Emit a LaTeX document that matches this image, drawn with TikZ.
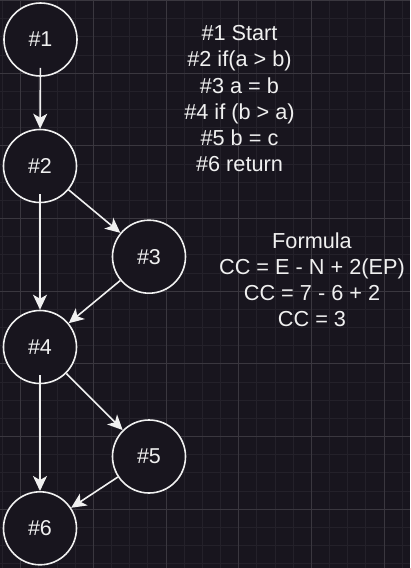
\documentclass[tikz,border=0pt]{standalone}
\usepackage{fontspec}
\setmainfont{Liberation Sans}
\usetikzlibrary{arrows.meta}
\definecolor{bg}{RGB}{24,21,30}
\definecolor{gridminor}{RGB}{36,33,42}
\definecolor{gridmajor}{RGB}{58,55,63}
\definecolor{fg}{RGB}{240,240,240}
\tikzset{
  vtx/.style={circle, draw=fg, fill=bg, line width=1.6pt, minimum size=73pt, inner sep=0pt, text=fg, font=\fontsize{21.5}{26}\selectfont},
  edge/.style={draw=fg, line width=1.6pt, -{Stealth[length=15pt, width=14pt, inset=4pt]}},
  lbl/.style={anchor=base, inner sep=0pt, text=fg, font=\fontsize{21.7}{26}\selectfont},
}
\begin{document}
\begin{tikzpicture}[x=1pt, y=-1pt]
\useasboundingbox (0,0) rectangle (410,568);
\fill[bg] (0,0) rectangle (410,568);
% grid
\foreach \i in {0,...,22} {\draw[gridminor, line width=1pt] ({2.5+18.167*\i},0) -- ({2.5+18.167*\i},568);}
\foreach \i in {0,...,31} {\draw[gridminor, line width=1pt] (0,{0.5+18.167*\i}) -- (410,{0.5+18.167*\i});}
\foreach \i in {0,...,5} {\draw[gridmajor, line width=1pt] ({20.7+72.67*\i},0) -- ({20.7+72.67*\i},568);}
\foreach \i in {0,...,7} {\draw[gridmajor, line width=1pt] (0,{0.5+72.67*\i}) -- (410,{0.5+72.67*\i});}
% vertices
\node[vtx] (n1) at (40.5,39.5) {\#1};
\node[vtx] (n2) at (40,166) {\#2};
\node[vtx] (n3) at (149,256.7) {\#3};
\node[vtx] (n4) at (40,347) {\#4};
\node[vtx] (n5) at (149,456.5) {\#5};
\node[vtx] (n6) at (40,528.3) {\#6};
% edges
\draw[edge, shorten <=-9pt] (n1) -- (n2);
\draw[edge, shorten <=-9pt] (n2) -- (n4);
\draw[edge, shorten <=-9pt] (n4) -- (n6);
\draw[edge] (n2) -- (n3);
\draw[edge] (n3) -- (n4);
\draw[edge] (n4) -- (n5);
\draw[edge] (n5) -- (n6);
% legend
\node[lbl] (t1) at (239.5,40.7) {\#1 Start};
\node[lbl] (t2) at (239.5,66.9) {\#2 if(a > b)};
\node[lbl] (t3) at (239.5,93.1) {\#3 a = b};
\node[lbl] (t4) at (239.5,119.3) {\#4 if (b > a)};
\node[lbl] (t5) at (239.5,145.5) {\#5 b = c};
\node[lbl] (t6) at (239.5,171.7) {\#6 return};
% formula
\node[lbl] (f1) at (312,248.3) {Formula};
\node[lbl] (f2) at (312,274.2) {CC = E - N + 2(EP)};
\node[lbl] (f3) at (312,300.1) {CC = 7 - 6 + 2};
\node[lbl] (f4) at (312,326) {CC = 3};
\end{tikzpicture}
\end{document}
